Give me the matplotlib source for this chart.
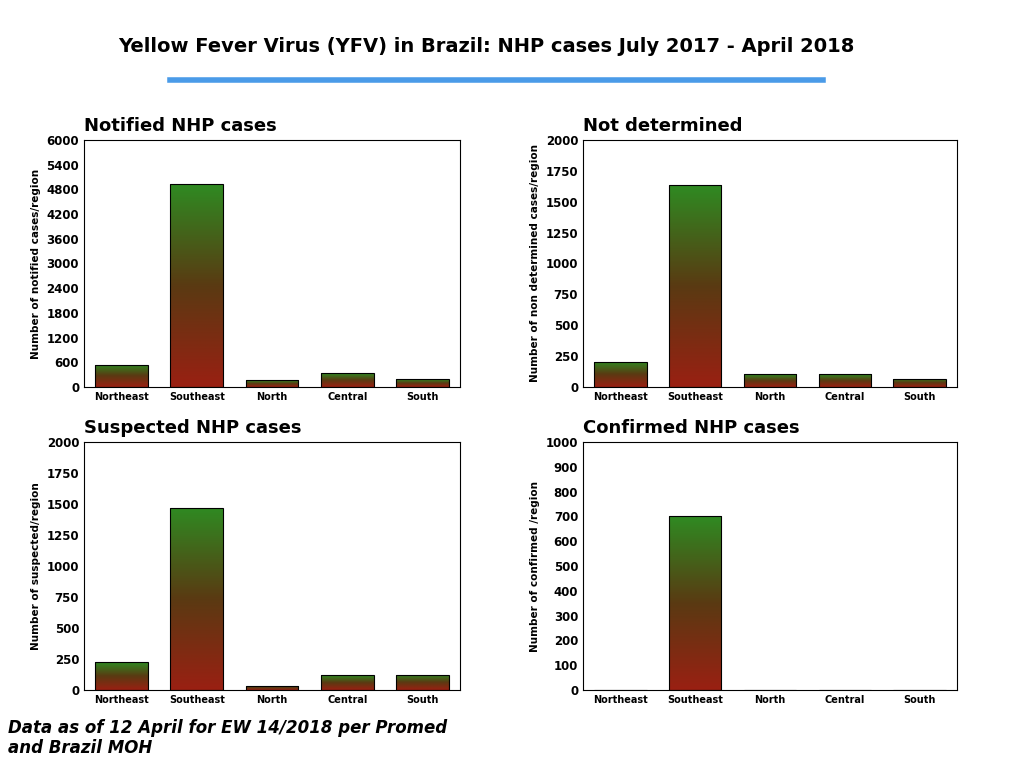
import matplotlib
matplotlib.use('Agg')
import matplotlib.pyplot as plt
import numpy as np
from matplotlib.colors import LinearSegmentedColormap

regions = ['Northeast', 'Southeast', 'North', 'Central', 'South']
notified = [540, 4920, 170, 330, 190]
not_determined = [205, 1635, 105, 105, 65]
suspected = [225, 1470, 35, 120, 125]
confirmed = [0, 700, 0, 0, 0]

cmap = LinearSegmentedColormap.from_list('rg', ['#9a2012', '#5a3a12', '#2f8a22'])
grad = np.linspace(0, 1, 256).reshape(-1, 1)

W, H = 1024, 768
fig = plt.figure(figsize=(10.24, 7.68), dpi=100)

def px(x0, y0, x1, y1):
    return [x0 / W, 1 - y1 / H, (x1 - x0) / W, (y1 - y0) / H]

fig.text(486 / W, 1 - 46 / H, 'Yellow Fever Virus (YFV) in Brazil: NHP cases July 2017 - April 2018',
         ha='center', va='center', fontsize=14, fontweight='bold')
fig.add_artist(plt.Line2D([170 / W, 823 / W], [1 - 80 / H] * 2, color='#4a9be8', lw=4))

panels = [
    (px(84, 140, 460, 387), notified, 'Notified NHP cases', 'Number of notified cases/region', 6000, 600),
    (px(583, 140, 957, 387), not_determined, 'Not determined', 'Number of non determined cases/region', 2000, 250),
    (px(84, 442, 460, 690), suspected, 'Suspected NHP cases', 'Number of suspected/region', 2000, 250),
    (px(583, 442, 957, 690), confirmed, 'Confirmed NHP cases', 'Number of confirmed /region', 1000, 100),
]

for pos, vals, title, ylab, ymax, step in panels:
    ax = fig.add_axes(pos)
    x = np.arange(len(regions))
    bars = ax.bar(x, vals, width=0.7, color='none', edgecolor='black', lw=0.8, zorder=3)
    for b, v in zip(bars, vals):
        if v <= 0:
            continue
        im = ax.imshow(grad, cmap=cmap, aspect='auto', origin='lower',
                       extent=[b.get_x(), b.get_x() + b.get_width(), 0, v], zorder=2)
        im.set_clip_path(b)
    ax.set_xlim(-0.5, 4.5)
    ax.set_ylim(0, ymax)
    ax.set_yticks(np.arange(0, ymax + 1, step))
    ax.set_xticks(x)
    ax.set_xticklabels(regions, fontsize=7, fontweight='bold')
    ax.tick_params(axis='y', labelsize=8.5, length=0)
    ax.tick_params(axis='x', length=0)
    for t in ax.get_yticklabels():
        t.set_fontweight('bold')
    ax.set_ylabel(ylab, fontsize=7.5, fontweight='bold')
    ax.text(0.0, 1.02, title, transform=ax.transAxes, fontsize=13, fontweight='bold',
            ha='left', va='bottom')

fig.text(8 / W, 1 - 738 / H, 'Data as of 12 April for EW 14/2018 per Promed\nand Brazil MOH',
         fontsize=12, fontweight='bold', style='italic', va='center', ha='left')

plt.savefig('out.png', dpi=100)
